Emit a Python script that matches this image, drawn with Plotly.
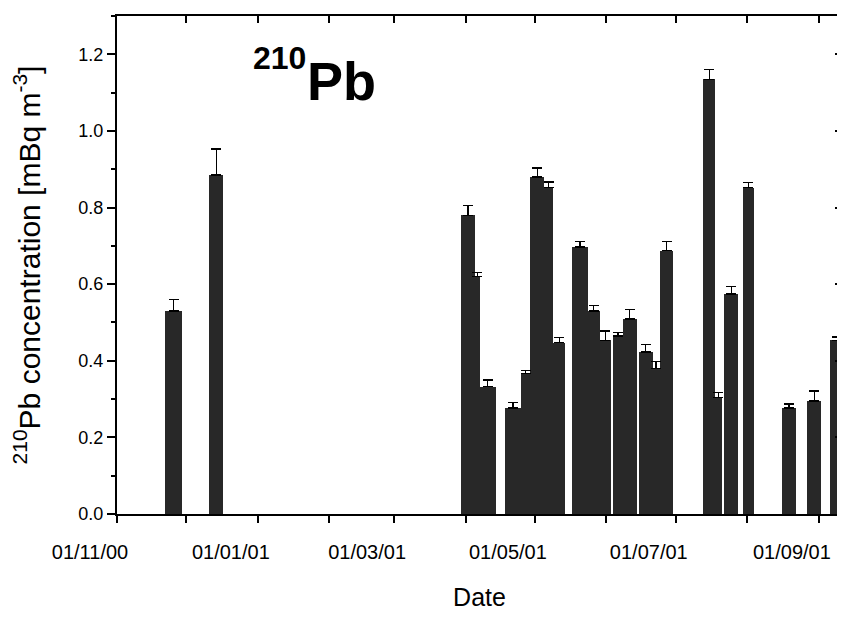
import pandas as pd
import plotly.graph_objects as go

# sampling periods (start / end) and 210Pb results [mBq m-3]
start_dates = ["2000-11-22", "2000-12-11",
               "2001-03-30", "2001-04-05", "2001-04-07", "2001-04-18", "2001-04-25",
               "2001-04-29", "2001-05-05", "2001-05-09", "2001-05-17", "2001-05-24",
               "2001-05-29", "2001-06-04", "2001-06-08", "2001-06-15", "2001-06-21",
               "2001-06-24", "2001-07-13", "2001-07-18", "2001-07-22", "2001-07-30",
               "2001-08-16", "2001-08-27", "2001-09-06"]
end_dates = ["2000-11-29", "2000-12-17",
             "2001-04-05", "2001-04-07", "2001-04-14", "2001-04-25", "2001-04-29",
             "2001-05-05", "2001-05-09", "2001-05-14", "2001-05-24", "2001-05-29",
             "2001-06-03", "2001-06-08", "2001-06-14", "2001-06-21", "2001-06-24",
             "2001-06-30", "2001-07-18", "2001-07-21", "2001-07-28", "2001-08-04",
             "2001-08-22", "2001-09-02", "2001-09-12"]
pb210 = [0.53, 0.885,
         0.78, 0.62, 0.332, 0.277, 0.366,
         0.88, 0.853, 0.447, 0.697, 0.53,
         0.453, 0.465, 0.509, 0.423, 0.379,
         0.687, 1.135, 0.304, 0.574, 0.852,
         0.277, 0.295, 0.453]
pb210_err = [0.03, 0.068,
             0.026, 0.01, 0.018, 0.014, 0.009,
             0.023, 0.014, 0.013, 0.015, 0.015,
             0.025, 0.008, 0.025, 0.019, 0.02,
             0.025, 0.026, 0.013, 0.019, 0.013,
             0.01, 0.026, 0.009]

start = pd.to_datetime(start_dates)
end = pd.to_datetime(end_dates)
mid = start + (end - start) / 2
width_ms = (end - start).total_seconds() * 1000

font = "Liberation Sans, Arial, sans-serif"
x_range = ["2000-11-01", "2001-09-11"]
y_range = [0, 1.3]

fig = go.Figure()
fig.add_trace(go.Bar(
    x=mid, y=pb210, width=list(width_ms),
    marker=dict(color="#282828", line=dict(width=0)),
    error_y=dict(type="data", array=pb210_err, arrayminus=[0] * len(pb210_err),
                 symmetric=False, color="black", thickness=1.3, width=5),
    showlegend=False,
))
# empty trace so the top / right axes (inward ticks) get drawn
fig.add_trace(go.Scatter(x=[], y=[], xaxis="x2", yaxis="y2",
                         showlegend=False, hoverinfo="skip"))

# page body has an 8px margin, so the figure is 8px smaller than the window
fig.update_layout(
    width=837, height=618,
    margin=dict(l=109, r=3, t=8, b=112),
    paper_bgcolor="white", plot_bgcolor="white",
    font=dict(family=font, color="black", size=18),
    bargap=0,
    xaxis=dict(
        type="date", range=x_range, automargin=False,
        tick0="2000-11-01", dtick="M2", tickformat="%d/%m/%y",
        ticks="outside", ticklen=7, tickwidth=2, tickcolor="black",
        minor=dict(dtick="M1", ticks="outside", ticklen=7, tickwidth=2, tickcolor="black"),
        ticklabelshift=-27, ticklabelstandoff=12,
        tickfont=dict(size=20),
        showline=True, linecolor="black", linewidth=2,
        showgrid=False, zeroline=False,
        title=dict(text="Date", font=dict(size=25), standoff=26),
    ),
    yaxis=dict(
        range=y_range, tick0=0, dtick=0.2, tickformat=".1f", automargin=False,
        ticks="outside", ticklen=8, tickwidth=2, tickcolor="black",
        minor=dict(dtick=0.1, ticks="outside", ticklen=4, tickwidth=2, tickcolor="black"),
        tickfont=dict(size=18),
        showline=True, linecolor="black", linewidth=2,
        showgrid=False, zeroline=False,
        title=dict(text="<sup>210</sup>Pb concentration [mBq m<sup>-3</sup>]",
                   font=dict(size=30), standoff=34),
    ),
    xaxis2=dict(
        type="date", range=x_range, overlaying="x", side="top", automargin=False,
        tick0="2000-11-01", dtick="M1", ticks="inside", ticklen=7, tickwidth=2,
        tickcolor="black", showticklabels=False, showgrid=False, zeroline=False,
        showline=True, linecolor="black", linewidth=2,
    ),
    yaxis2=dict(
        range=y_range, overlaying="y", side="right", automargin=False,
        tick0=0, dtick=0.2, ticks="inside", ticklen=7, tickwidth=2,
        tickcolor="black", showticklabels=False, showgrid=False, zeroline=False,
        showline=True, linecolor="black", linewidth=2,
    ),
)

fig.add_annotation(
    text="<b>210</b>", xref="paper", yref="paper",
    x=0.224, y=0.915, xanchor="center", yanchor="middle",
    showarrow=False, font=dict(family=font, size=32, color="black"),
)
fig.add_annotation(
    text="<b>Pb</b>", xref="paper", yref="paper",
    x=0.31, y=0.869, xanchor="center", yanchor="middle",
    showarrow=False, font=dict(family=font, size=54, color="black"),
)

fig.write_html("out.html")
